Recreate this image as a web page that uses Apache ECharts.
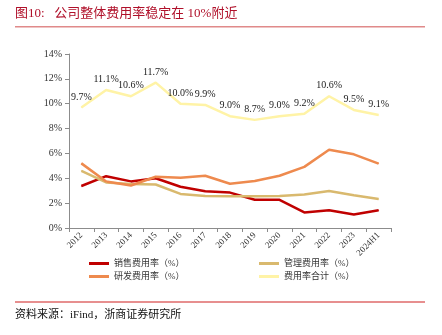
<!DOCTYPE html>
<html><head><meta charset="utf-8">
<script src="https://cdn.jsdelivr.net/npm/echarts@6/dist/echarts.min.js"></script>
<style>html,body{margin:0;padding:0;background:#fff}#c{width:442px;height:335px}</style>
</head><body><div id="c"></div>
<script>
const categories = ['2012','2013','2014','2015','2016','2017','2018','2019','2020','2021','2022','2023','2024H1'];
const salesRate = [3.38,4.17,3.75,4.0,3.32,2.95,2.85,2.27,2.27,1.25,1.43,1.08,1.43];
const adminRate = [4.6,3.67,3.55,3.5,2.74,2.58,2.56,2.56,2.57,2.7,2.97,2.63,2.33];
const rdRate = [5.2,3.74,3.42,4.12,4.05,4.2,3.56,3.78,4.2,4.92,6.3,5.93,5.18];
const totalRate = [9.7,11.1,10.6,11.7,10.0,9.9,9.0,8.7,9.0,9.2,10.6,9.5,9.1];
const yTicks = [0,2,4,6,8,10,12,14];

const serif = '"Liberation Serif","Noto Sans CJK SC",serif';
const names = ['销售费用率（%）','管理费用率（%）','研发费用率（%）','费用率合计（%）'];
const colors = ['#C00000','#D9B96E','#EE8A4E','#FFF3A6'];
const chart = echarts.init(document.getElementById('c'), null, {renderer:'canvas'});
function line(i, data, extra){
  return Object.assign({name:names[i], type:'line', data:data, symbol:'circle', symbolSize:1, showSymbol:true,
    lineStyle:{color:colors[i], width:2.5}, itemStyle:{color:colors[i]}, z: 3}, extra||{});
}
chart.setOption({
  animation:false,
  grid:{left:69, right:51, top:54, bottom:107},
  xAxis:{type:'category', data:categories, boundaryGap:true,
    axisLine:{lineStyle:{color:'#8c8c8c', width:1}},
    axisTick:{show:true, length:4, lineStyle:{color:'#8c8c8c'}},
    axisLabel:{rotate:45, fontSize:9, fontFamily:serif, color:'#333', margin:6, interval:0}},
  yAxis:{type:'value', min:0, max:14, interval:2,
    axisLine:{show:true, lineStyle:{color:'#8c8c8c', width:1}},
    axisTick:{show:true, length:4, lineStyle:{color:'#8c8c8c'}},
    splitLine:{show:false},
    axisLabel:{fontSize:10, fontFamily:serif, color:'#333', margin:7,
      formatter:v=>yTicks.includes(v)? v+'%' : ''}},
  legend:[
    {data:[names[0], names[2]], orient:'vertical', left:84, top:254, itemWidth:20, itemHeight:3, itemGap:4,
      icon:'rect', textStyle:{fontSize:9, fontFamily:serif, color:'#333'}},
    {data:[names[1], names[3]], orient:'vertical', left:254, top:254, itemWidth:20, itemHeight:3, itemGap:4,
      icon:'rect', textStyle:{fontSize:9, fontFamily:serif, color:'#333'}}
  ],
  series:[
    line(0, salesRate),
    line(1, adminRate),
    line(2, rdRate),
    line(3, totalRate, {label:{show:true, position:'top', distance:5, fontSize:10, fontFamily:serif, color:'#222',
      formatter:p=>Number(p.value).toFixed(1)+'%'}})
  ],
  graphic:[
    {type:'text', left:15, top:7, style:{text:'图10:   公司整体费用率稳定在 10%附近', fontSize:13, fontFamily:serif, fill:'#B0102A'}},
    {type:'rect', shape:{x:15, y:26, width:410, height:1.5}, style:{fill:'#E08A8A'}},
    {type:'rect', shape:{x:15, y:301.5, width:410, height:1}, style:{fill:'#D02020'}},
    {type:'text', left:15, top:310, style:{text:'资料来源：iFind，浙商证券研究所', fontSize:11, fontFamily:serif, fill:'#111'}}
  ]
});
</script></body></html>
